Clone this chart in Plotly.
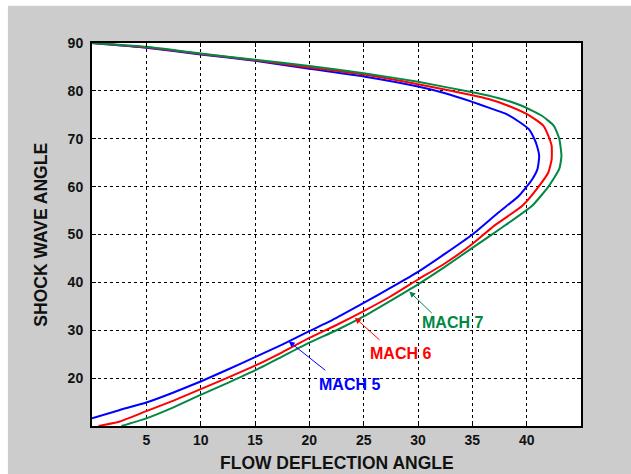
import plotly.graph_objects as go

# Flow deflection angle (theta) vs shock wave angle (beta)
m5_theta = [0, 2.5, 5, 7.5, 10, 12.5, 15, 17.5, 20, 22.5, 25, 27.5, 30, 32.5, 35, 37.4, 39.25, 40.5, 41.0,
            41.15, 40.95, 40.7, 40.2, 39.4, 38.0, 36.5, 35.0, 32.5, 30.0, 25.0, 20.0, 15.0, 10.0, 5.0, 0]
m5_beta = [11.6, 13.3, 14.9, 17.0, 19.3, 21.8, 24.4, 27.0, 29.8, 32.6, 35.7, 38.9, 42.2, 46.0, 50.0, 54.6, 58.0, 61.5, 63.7,
           66.4, 68.5, 70.0, 72.0, 73.4, 75.3, 76.5, 77.7, 79.5, 80.9, 83.0, 84.6, 86.3, 87.6, 89.0, 90]

m6_theta = [0.6, 2.5, 5, 7.5, 10, 12.5, 15, 17.5, 20, 22.5, 25, 27.5, 30, 32.5, 35, 37.0, 39.6, 41.1, 42.0,
            42.3, 42.3, 42.1, 41.55, 40.3, 38.3, 36.5, 35.0, 30, 25, 20, 15, 10, 5, 0]
m6_beta = [10.0, 10.9, 13.1, 15.3, 17.7, 20.1, 22.6, 25.4, 28.4, 31.1, 34.0, 37.1, 40.6, 44.0, 48.0, 51.8, 56.0, 60.0, 63.0,
           65.7, 68.5, 70.0, 72.7, 74.8, 76.9, 78.3, 79.1, 81.4, 83.4, 84.9, 86.4, 87.7, 89.1, 90]

m7_theta = [2.7, 5, 7.5, 10, 12.5, 15, 17.5, 20, 22.5, 25, 27.5, 30, 32.5, 35, 37.7, 40.5, 42.0, 43.0,
            43.2, 43.0, 42.5, 41.4, 39.55, 37.7, 35.9, 35, 30, 25, 20, 15, 10, 5, 0]
m7_beta = [10.0, 11.6, 13.9, 16.5, 19.0, 21.6, 24.5, 27.4, 30.0, 32.9, 36.2, 39.6, 43.3, 47.2, 51.4, 56.0, 60.0, 63.7,
           66.4, 70.0, 72.7, 74.8, 76.9, 78.3, 79.3, 79.7, 81.9, 83.7, 85.2, 86.5, 87.8, 89.2, 90]

series_names = ["MACH 5", "MACH 6", "MACH 7"]
x_ticks = [5, 10, 15, 20, 25, 30, 35, 40]
x_ticktext = ["5", "10", "15", "20", "25", "30", "35", "40"]
y_ticks = [20, 30, 40, 50, 60, 70, 80, 90]
y_ticktext = ["20", "30", "40", "50", "60", "70", "80", "90"]

# label annotation positions (data coords): arrow head, arrow tail, text centre
label_head = [(18.1, 27.7), (24.2, 32.6), (29.2, 38.1)]
label_tail = [(21.6, 21.4), (26.6, 27.7), (31.4, 33.3)]
label_text = [(23.65, 18.7), (28.4, 25.1), (33.2, 31.6)]

BLUE = "#0000ff"
RED = "#ff0000"
GREEN = "#008844"
colors = [BLUE, RED, GREEN]
FONT = "Liberation Sans, Arial, sans-serif"

fig = go.Figure()
for th, be, c, n in zip([m5_theta, m6_theta, m7_theta], [m5_beta, m6_beta, m7_beta], colors, series_names):
    fig.add_trace(go.Scatter(x=th, y=be, mode="lines", name=n,
                             line=dict(color=c, width=2, shape="spline", smoothing=0.5)))

for (hx, hy), (tx, ty), (lx, ly), c, n in zip(label_head, label_tail, label_text, colors, series_names):
    fig.add_annotation(x=hx, y=hy, ax=tx, ay=ty, xref="x", yref="y", axref="x", ayref="y",
                       text="", showarrow=True, arrowhead=2, arrowsize=1.2, arrowwidth=1, arrowcolor=c)
    fig.add_annotation(x=lx, y=ly, xref="x", yref="y", text=n, showarrow=False,
                       font=dict(family=FONT, size=16, color=c, weight="bold"))

# axis titles
fig.add_annotation(x=0.5, y=-0.097, xref="paper", yref="paper", text="FLOW DEFLECTION ANGLE",
                   showarrow=False, xanchor="center", yanchor="middle",
                   font=dict(family=FONT, size=17.5, color="#111111", weight="bold"))
fig.add_annotation(x=-0.106, y=0.5, xref="paper", yref="paper", text="SHOCK WAVE ANGLE",
                   showarrow=False, xanchor="center", yanchor="middle", textangle=-90,
                   font=dict(family=FONT, size=17.5, color="#111111", weight="bold"))

# white strips at top and left edge of picture
fig.add_shape(type="rect", xref="paper", yref="paper", x0=-0.2, x1=-0.172, y0=-0.2, y1=1.2,
              fillcolor="white", line=dict(width=0), layer="below")
fig.add_shape(type="rect", xref="paper", yref="paper", x0=-0.2, x1=1.2, y0=1.097, y1=1.2,
              fillcolor="white", line=dict(width=0), layer="below")

axis_common = dict(showline=True, linecolor="black", linewidth=2, mirror="ticks",
                   ticks="inside", ticklen=4, tickcolor="black", tickwidth=1,
                   showgrid=True, gridcolor="black", gridwidth=1, griddash="3px,3px",
                   zeroline=False, tickfont=dict(family=FONT, size=14, color="#111111", weight="bold"))

fig.update_xaxes(range=[0, 45], tickmode="array", tickvals=x_ticks, ticktext=x_ticktext, **axis_common)
fig.update_yaxes(range=[10, 90], tickmode="array", tickvals=y_ticks, ticktext=y_ticktext,
                 ticklabelstandoff=4, **axis_common)

fig.update_layout(width=631, height=474, autosize=False,
                  margin=dict(l=92, r=50, t=43, b=48, pad=0),
                  paper_bgcolor="#cccccc", plot_bgcolor="white", showlegend=False)

fig.write_html("out.html")
